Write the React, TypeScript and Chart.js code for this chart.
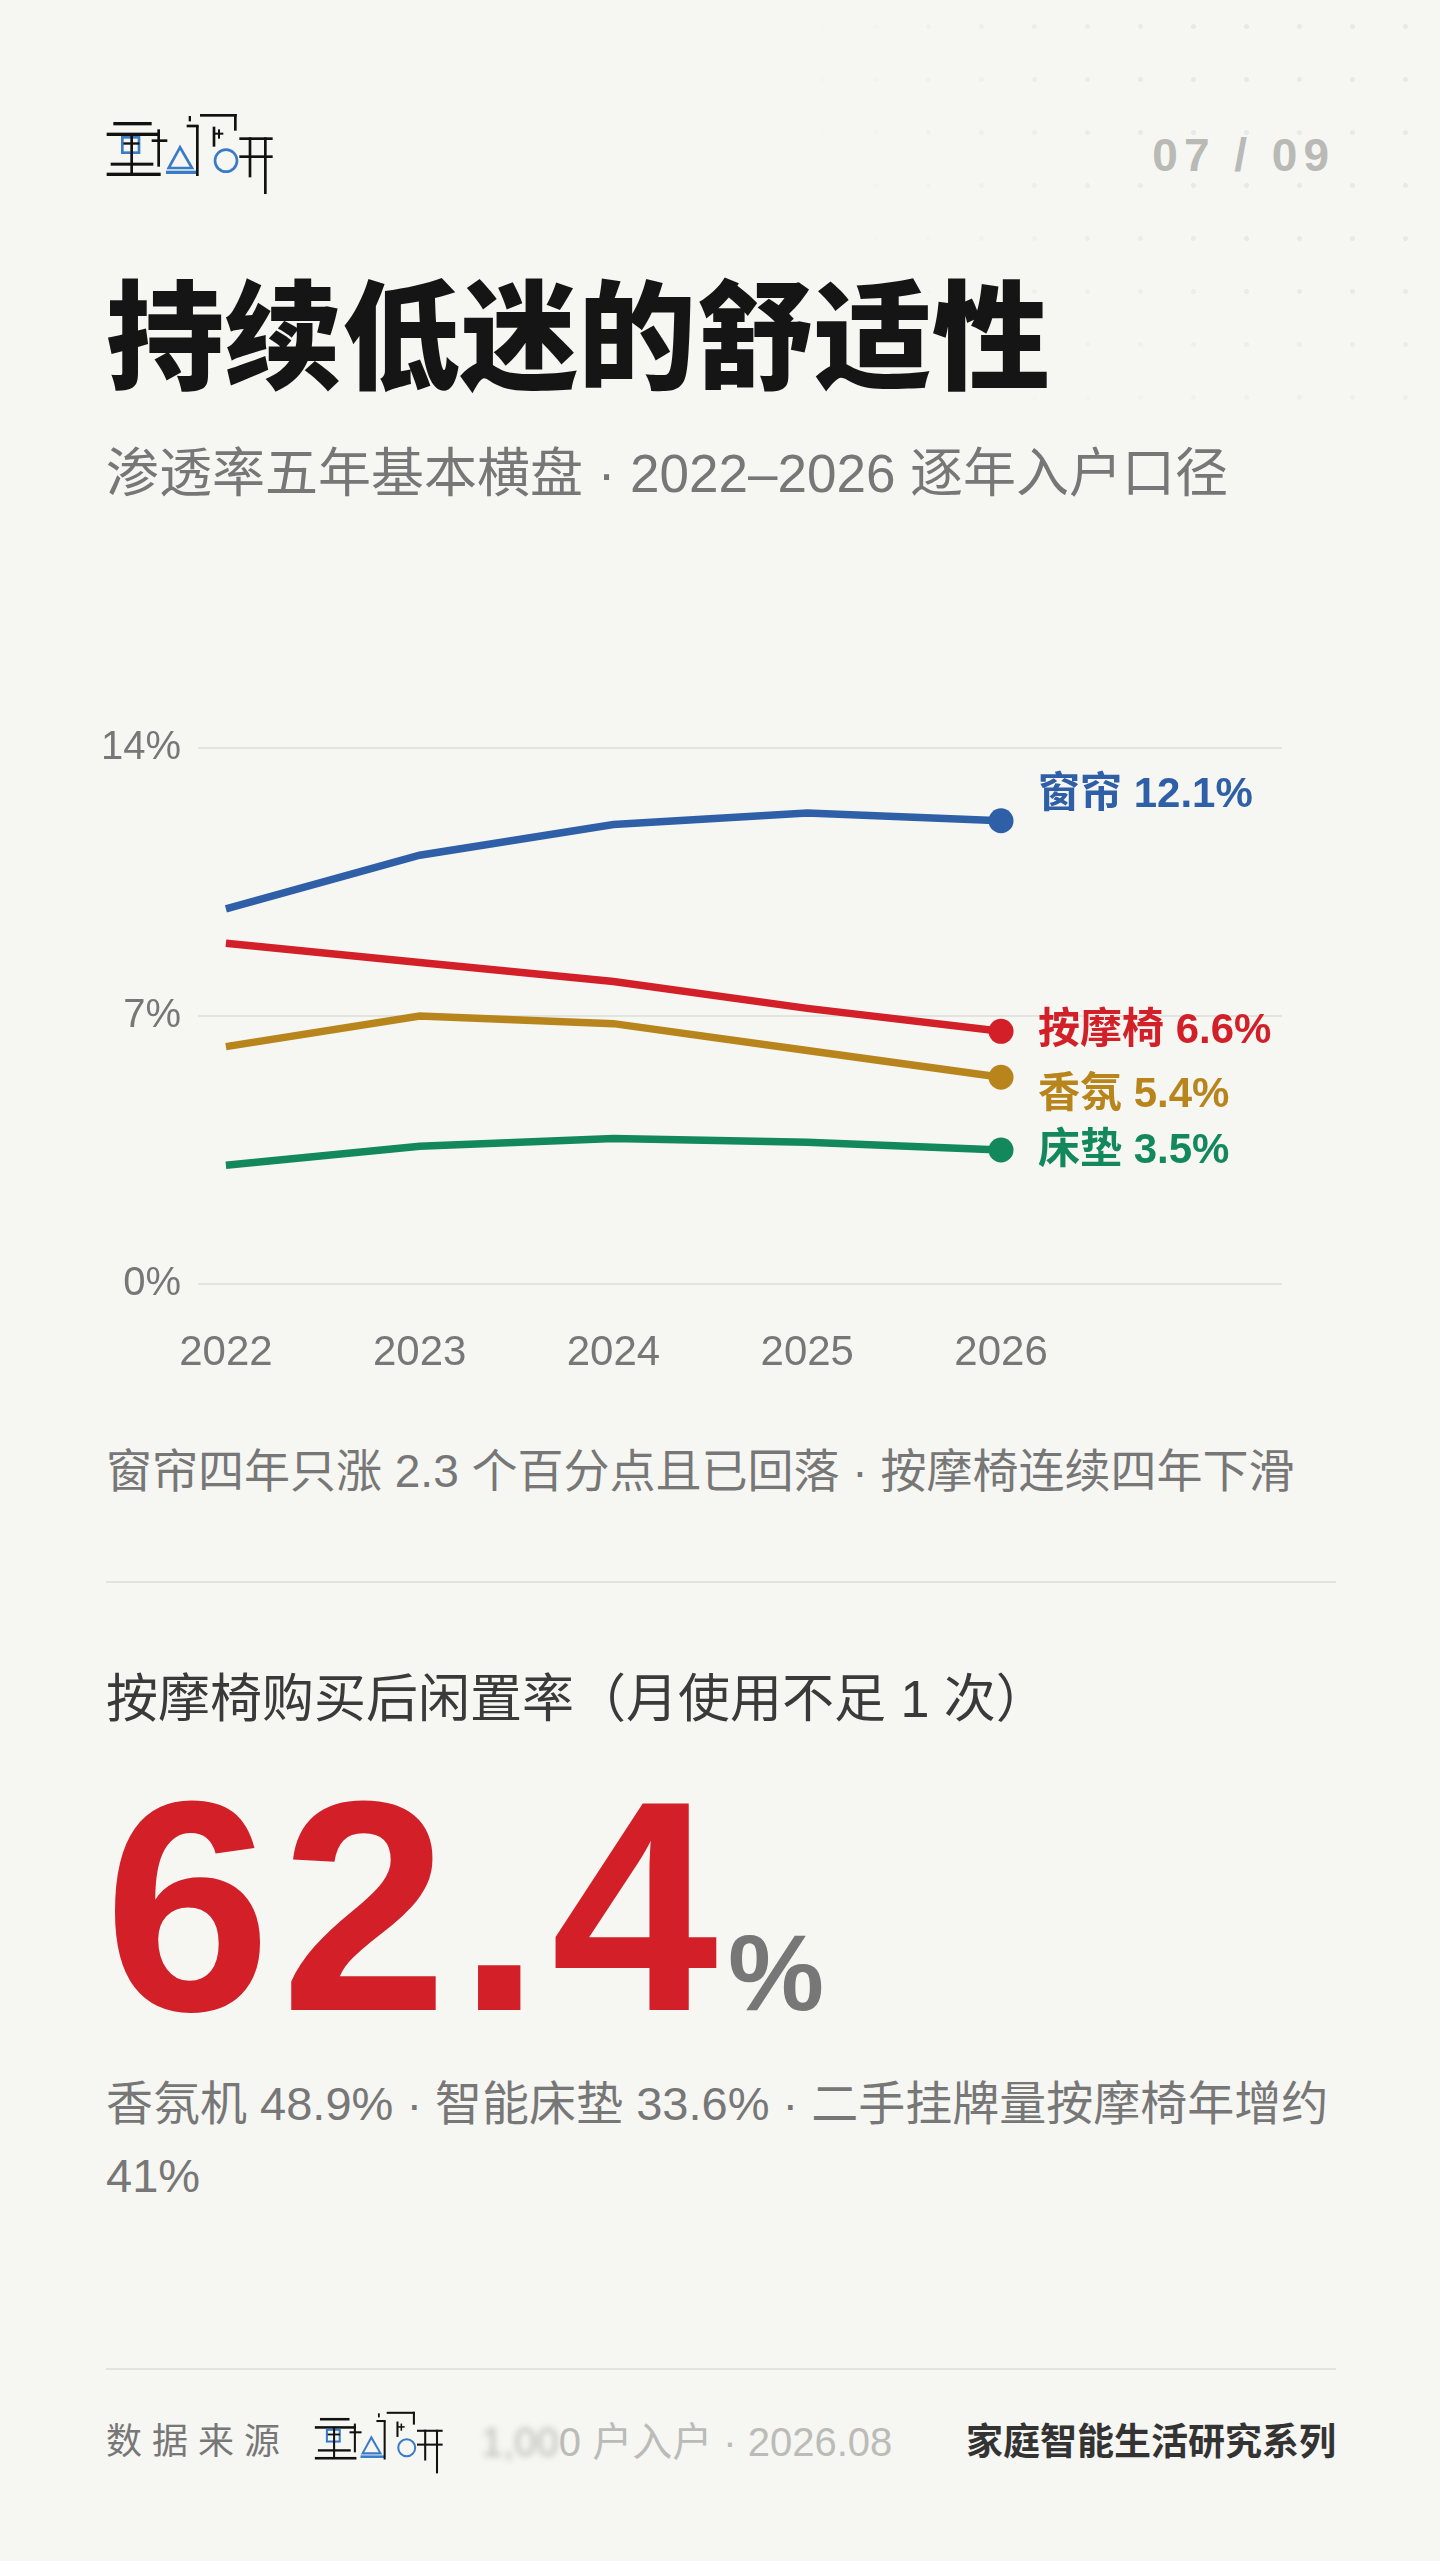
import React, { useEffect, useRef } from "react";
import { Chart, registerables } from "chart.js";

Chart.register(...registerables);

// ---------- data ----------
const years = [2022, 2023, 2024, 2025, 2026];
const seriesNames = ["窗帘", "按摩椅", "香氛", "床垫"];
const curtainValues = [9.8, 11.2, 12.0, 12.3, 12.1];
const massageChairValues = [8.9, 8.4, 7.9, 7.2, 6.6];
const aromaValues = [6.2, 7.0, 6.8, 6.1, 5.4];
const mattressValues = [3.1, 3.6, 3.8, 3.7, 3.5];
const yTickValues = [0, 7, 14];

// ---------- styles ----------
const seriesColors = ["#2f5fa7", "#d21f28", "#b8851d", "#12885c"];
const labelDy = [-25, 0, 18, 1];
const FONT = '"Liberation Sans", "Noto Sans CJK SC", sans-serif';
const BG = "#f6f6f2";

const endLabelPlugin = {
  id: "endLabels",
  afterDatasetsDraw(chart: any) {
    const ctx = chart.ctx;
    chart.data.datasets.forEach((ds: any, i: number) => {
      const meta = chart.getDatasetMeta(i);
      const pt = meta.data[meta.data.length - 1];
      const val = ds.data[ds.data.length - 1].y;
      ctx.save();
      ctx.font = `bold 42px ${FONT}`;
      ctx.fillStyle = ds.borderColor;
      ctx.textBaseline = "middle";
      ctx.textAlign = "left";
      ctx.fillText(`${ds.label} ${val.toFixed(1)}%`, pt.x + 37, pt.y + labelDy[i]);
      ctx.restore();
    });
  },
};

function Logo({ left, top, scale }: { left: number; top: number; scale: number }) {
  const k = "#111";
  const b = "#3a7bc8";
  return (
    <svg
      viewBox="0 0 600 330"
      width={200 * scale}
      height={110 * scale}
      style={{ position: "absolute", left, top }}
    >
      {/* char 1 */}
      <rect x={70} y={66} width={115} height={10} fill={k} />
      <rect x={50} y={98} width={160} height={10} fill={k} />
      <rect x={97} y={112} width={50} height={46} fill="none" stroke={b} strokeWidth={8} />
      <rect x={121} y={100} width={8} height={122} fill={k} />
      <rect x={100} y={127} width={48} height={7} fill={k} />
      <rect x={62} y={188} width={128} height={9} fill={k} />
      <rect x={50} y={218} width={162} height={10} fill={k} />
      {/* char 2 */}
      <rect x={202} y={88} width={8} height={112} fill={k} />
      <rect x={185} y={118} width={47} height={8} fill={k} />
      <polygon points="270,142 236,204 306,204" fill="none" stroke={b} strokeWidth={8} />
      <rect x={228} y={212} width={94} height={10} fill={b} />
      <rect x={318} y={78} width={8} height={150} fill={k} />
      <rect x={290} y={74} width={36} height={8} fill={k} />
      <rect x={296} y={48} width={7} height={16} fill={k} />
      {/* char 3 */}
      <rect x={330} y={42} width={110} height={8} fill={k} />
      <rect x={432} y={42} width={8} height={50} fill={k} />
      <rect x={368} y={80} width={8} height={60} fill={k} />
      <rect x={372} y={98} width={28} height={6} fill={k} />
      <rect x={384} y={88} width={6} height={28} fill={k} />
      <circle cx={408} cy={182} r={33} fill="none" stroke={b} strokeWidth={8} />
      {/* char 4 */}
      <rect x={448} y={112} width={100} height={8} fill={k} />
      <rect x={448} y={166} width={100} height={8} fill={k} />
      <rect x={476} y={112} width={8} height={120} fill={k} />
      <rect x={522} y={112} width={8} height={170} fill={k} />
    </svg>
  );
}

function LineChart() {
  const ref = useRef<HTMLCanvasElement | null>(null);
  useEffect(() => {
    if (!ref.current) return;
    const valueSets = [curtainValues, massageChairValues, aromaValues, mattressValues];
    const chart = new Chart(ref.current, {
      type: "line",
      data: {
        datasets: seriesNames.map((name, i) => ({
          label: name,
          data: years.map((yr, j) => ({ x: yr, y: valueSets[i][j] })),
          borderColor: seriesColors[i],
          backgroundColor: seriesColors[i],
          borderWidth: 7.5,
          pointRadius: years.map((_, j) => (j === years.length - 1 ? 12.5 : 0)),
          pointHoverRadius: 0,
          pointBorderWidth: 0,
          tension: 0,
          clip: false as any,
        })),
      },
      options: {
        animation: false,
        responsive: false,
        maintainAspectRatio: false,
        events: [],
        layout: { padding: { top: 58, right: 158, left: 0, bottom: 0 } },
        plugins: { legend: { display: false }, tooltip: { enabled: false } },
        scales: {
          x: {
            type: "linear",
            min: 2021.856,
            max: 2027.45,
            afterBuildTicks: (axis: any) => {
              axis.ticks = years.map((v) => ({ value: v }));
            },
            afterFit: (s: any) => {
              s.height = 126;
            },
            ticks: {
              callback: (v: any) => String(v),
              font: { family: FONT, size: 42, lineHeight: 1 },
              color: "#777777",
              padding: 40,
              maxRotation: 0,
              autoSkip: false,
            },
            grid: { display: false },
            border: { display: false },
          },
          y: {
            min: 0,
            max: 14,
            afterBuildTicks: (axis: any) => {
              axis.ticks = yTickValues.map((v) => ({ value: v }));
            },
            afterFit: (s: any) => {
              s.width = 138;
            },
            ticks: {
              callback: (v: any) => `${v}%`,
              font: { family: FONT, size: 40, lineHeight: 1 },
              color: "#777777",
              padding: 17,
            },
            grid: { color: "#e3e3df", lineWidth: 2, drawTicks: false },
            border: { display: false },
          },
        },
      },
      plugins: [endLabelPlugin],
    });
    return () => chart.destroy();
  }, []);
  return (
    <canvas
      ref={ref}
      width={1380}
      height={720}
      style={{ position: "absolute", left: 60, top: 690, width: 1380, height: 720 }}
    />
  );
}

const abs = (o: React.CSSProperties): React.CSSProperties => ({
  position: "absolute",
  margin: 0,
  whiteSpace: "nowrap",
  fontFamily: FONT,
  ...o,
});

export default function App() {
  return (
    <div
      style={{
        position: "absolute",
        left: 0,
        top: 0,
        width: 1440,
        height: 2561,
        background: BG,
        overflow: "hidden",
        fontFamily: FONT,
      }}
    >
      {/* dot pattern */}
      <div
        style={{
          position: "absolute",
          left: 800,
          top: 0,
          width: 640,
          height: 440,
          backgroundImage: "radial-gradient(circle, #e9e9e5 2.2px, rgba(0,0,0,0) 2.8px)",
          backgroundSize: "53px 53px",
          backgroundPosition: "-4px 0px",
          WebkitMaskImage: "radial-gradient(ellipse 100% 100% at 100% 20%, #000 45%, rgba(0,0,0,0) 100%)",
          maskImage: "radial-gradient(ellipse 100% 100% at 100% 20%, #000 45%, rgba(0,0,0,0) 100%)",
        }}
      />

      <Logo left={90} top={100} scale={1} />
      <div
        style={abs({
          right: 105,
          top: 132,
          fontSize: 46,
          lineHeight: "46px",
          fontWeight: 700,
          color: "#b9b9b5",
          letterSpacing: 6,
        })}
      >
        07 / 09
      </div>

      <div
        style={abs({
          left: 106,
          top: 280,
          fontSize: 118,
          lineHeight: "118px",
          fontWeight: 900,
          color: "#151515",
        })}
      >
        持续低迷的舒适性
      </div>
      <div style={abs({ left: 106, top: 447, fontSize: 53, lineHeight: "53px", color: "#777" })}>
        渗透率五年基本横盘 · 2022–2026 逐年入户口径
      </div>

      <LineChart />

      <div style={abs({ left: 106, top: 1448, fontSize: 46, lineHeight: "46px", color: "#777" })}>
        窗帘四年只涨 2.3 个百分点且已回落 · 按摩椅连续四年下滑
      </div>
      <div style={abs({ left: 106, top: 1581, width: 1230, height: 2, background: "#e2e2de" })} />

      <div style={abs({ left: 106, top: 1673, fontSize: 52, lineHeight: "52px", color: "#3a3a3a" })}>
        按摩椅购买后闲置率（月使用不足 1 次）
      </div>
      <div
        style={abs({
          left: 104,
          top: 1756,
          fontSize: 300,
          lineHeight: "300px",
          fontWeight: 700,
          color: "#d21f28",
          letterSpacing: 10,
        })}
      >
        62.4
        <span
          style={{
            fontSize: 108,
            lineHeight: "108px",
            fontWeight: 700,
            color: "#777",
            marginLeft: 0,
            letterSpacing: 0,
          }}
        >
          %
        </span>
      </div>
      <div
        style={abs({
          left: 106,
          top: 2068,
          width: 1232,
          whiteSpace: "normal",
          fontSize: 47,
          lineHeight: "72px",
          color: "#777",
        })}
      >
        香氛机 48.9% · 智能床垫 33.6% · 二手挂牌量按摩椅年增约 41%
      </div>

      <div style={abs({ left: 106, top: 2368, width: 1230, height: 2, background: "#e2e2de" })} />
      <div style={abs({ left: 106, top: 2424, fontSize: 36, lineHeight: "36px", color: "#777", letterSpacing: 10 })}>
        数据来源
      </div>
      <Logo left={302} top={2401} scale={0.77} />
      <div style={abs({ left: 481, top: 2422, fontSize: 40, lineHeight: "40px", color: "#bbbbb8" })}>
        <span style={{ filter: "blur(3px)" }}>1,00</span>0 户入户 · 2026.08
      </div>
      <div
        style={abs({
          right: 104,
          top: 2424,
          fontSize: 37,
          lineHeight: "37px",
          fontWeight: 700,
          color: "#333",
        })}
      >
        家庭智能生活研究系列
      </div>
    </div>
  );
}
